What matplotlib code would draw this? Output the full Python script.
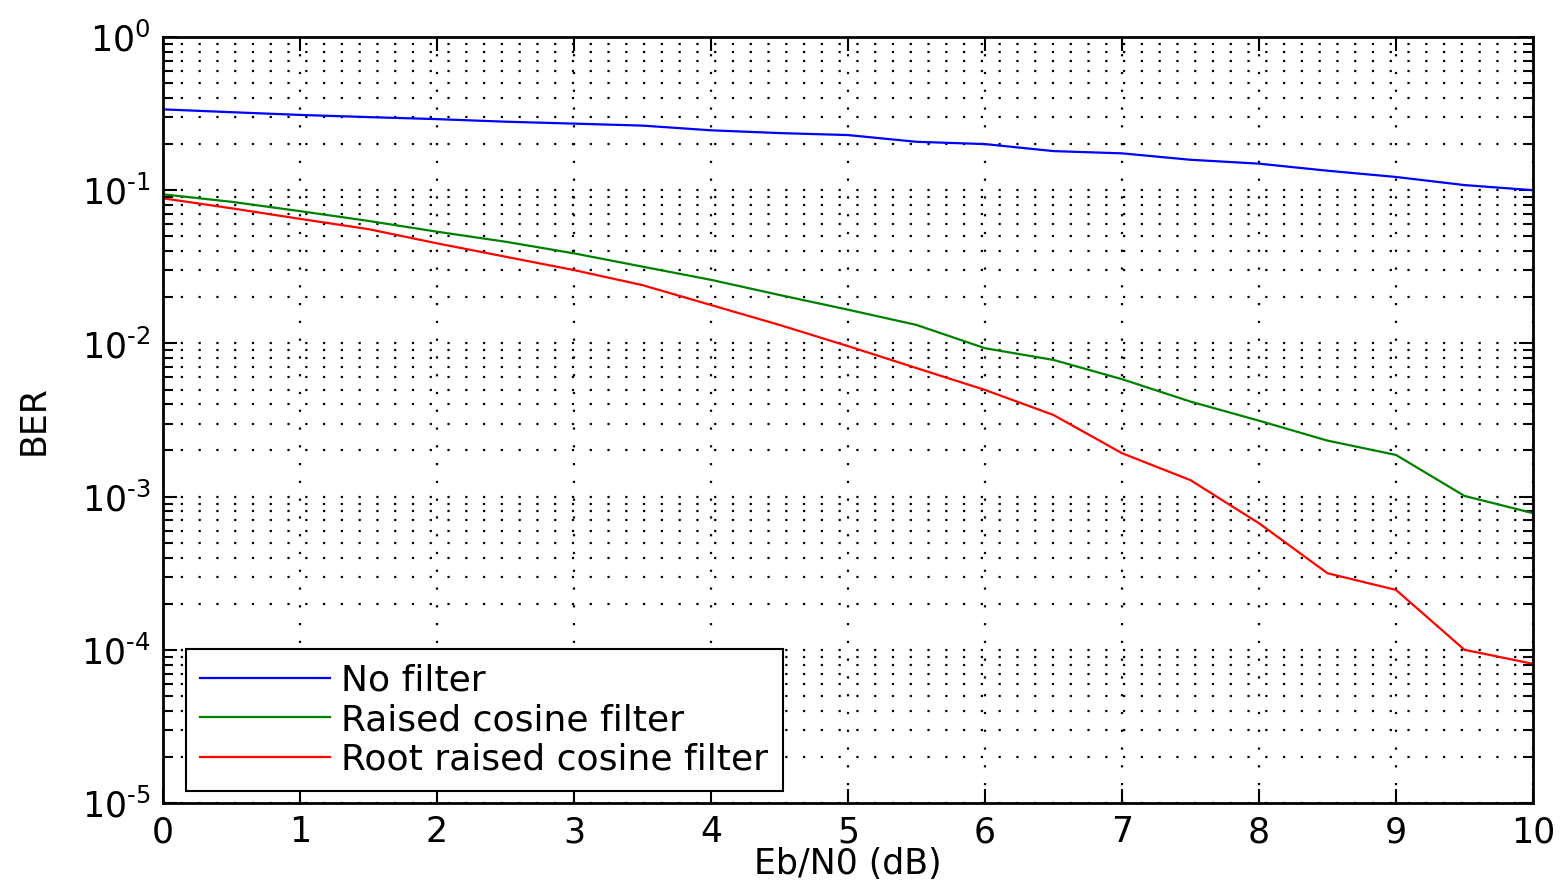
import numpy as np
import matplotlib
matplotlib.use("Agg")
import matplotlib.pyplot as plt
from matplotlib.ticker import LogLocator, FixedLocator, FuncFormatter

# Eb/N0 in dB
ebn0 = [0, 0.5, 1, 1.5, 2, 2.5, 3, 3.5, 4, 4.5, 5,
        5.5, 6, 6.5, 7, 7.5, 8, 8.5, 9, 9.5, 10]

ber_nofilter = [0.337, 0.323, 0.31, 0.30, 0.291, 0.28, 0.272, 0.264, 0.246, 0.236, 0.229,
                0.207, 0.200, 0.180, 0.174, 0.158, 0.149, 0.134, 0.122, 0.108, 0.100]
ber_rc = [0.094, 0.084, 0.073, 0.063, 0.0536, 0.0461, 0.0387, 0.0317, 0.026, 0.0207, 0.0166,
          0.0132, 0.0093, 0.0078, 0.00584, 0.00417, 0.00313, 0.00232, 0.00187, 0.00101, 0.00078]
ber_rrc = [0.0885, 0.0762, 0.065, 0.0557, 0.045, 0.0368, 0.0301, 0.024, 0.0178, 0.0132, 0.0096,
           0.0069, 0.00497, 0.00341, 0.00192, 0.00128, 0.00067, 0.000316, 0.000246, 0.0001, 0.000081]

labels = ['No filter', 'Raised cosine filter', 'Root raised cosine filter']
colors = [(0, 0, 1), (0, 0.5, 0), (1, 0, 0)]

plt.rcParams['font.family'] = ['DejaVu Sans']
plt.rcParams['mathtext.default'] = 'regular'
fs = 25

fig = plt.figure(figsize=(15.61, 8.83), dpi=100)
ax = fig.add_axes([163 / 1561, 1 - 803 / 883, 1370 / 1561, 766 / 883])

for y, lab, c in zip([ber_nofilter, ber_rc, ber_rrc], labels, colors):
    ax.semilogy(ebn0, y, color=c, lw=1.6, label=lab)

ax.set_xlim(0, 10)
ax.set_ylim(1e-5, 1)
ax.xaxis.set_major_locator(FixedLocator(range(0, 11)))
ax.yaxis.set_major_locator(LogLocator(base=10, numticks=10))
ax.yaxis.set_minor_locator(LogLocator(base=10, subs=np.arange(2, 10), numticks=20))


def fmt(v, p):
    e = int(round(np.log10(v)))
    if e >= 0:
        return r'$10^{%d}$' % e
    return r'$10^{\text{-}%d}$' % -e


ax.yaxis.set_major_formatter(FuncFormatter(fmt))

ax.tick_params(which='both', direction='in', top=True, right=True, labelsize=fs, pad=9)
ax.tick_params(which='major', length=10, width=1.5)
ax.tick_params(which='minor', length=7, width=1.5)

dot = (0, (1, 7))
ax.grid(True, which='major', axis='both', color='black', linestyle=dot, lw=1.6)
ax.grid(True, which='minor', axis='y', color='black', linestyle=dot, lw=1.6)

for s in ax.spines.values():
    s.set_linewidth(2)

ax.set_xlabel('Eb/N0 (dB)', fontsize=fs, labelpad=-2)
ax.set_ylabel('BER', fontsize=fs, labelpad=22)

leg = ax.legend(loc='lower left', bbox_to_anchor=(0.0168, 0.0157), borderaxespad=0,
                fontsize=26, fancybox=False, framealpha=1, edgecolor='black',
                handlelength=3.6, handletextpad=0.3, labelspacing=0.15, borderpad=0.4)
leg.get_frame().set_linewidth(1.5)

fig.savefig('out.png', dpi=100)
